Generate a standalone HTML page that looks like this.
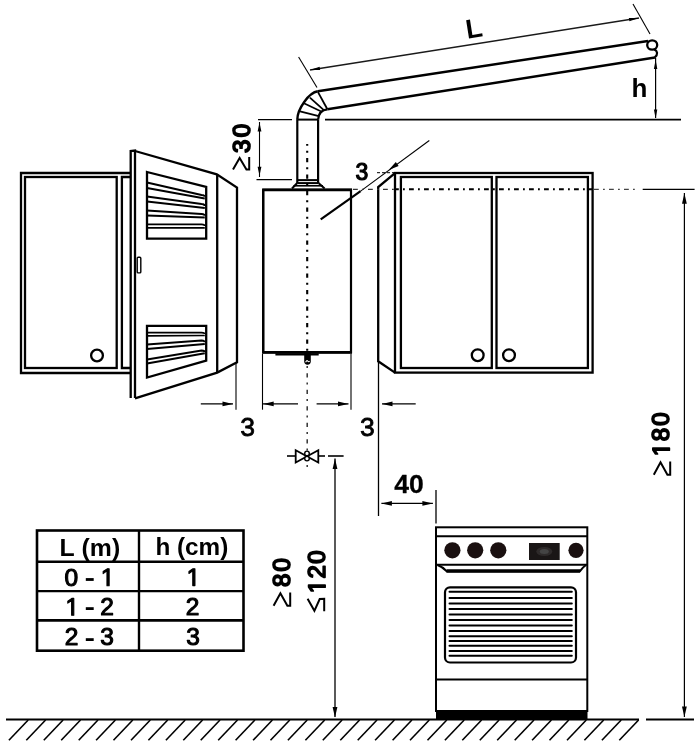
<!DOCTYPE html>
<html><head><meta charset="utf-8"><style>
html,body{margin:0;padding:0;background:#fff;}
svg{display:block;will-change:transform;}
text{font-family:"Liberation Sans",sans-serif;fill:#000;}
</style></head><body>
<svg width="700" height="745" viewBox="0 0 700 745">
<rect width="700" height="745" fill="#fff"/>
<g stroke="#000" stroke-linecap="butt" fill="none">
<line x1="6.0" y1="719.5" x2="639.0" y2="719.5" stroke-width="2" />
<line x1="646.0" y1="719.5" x2="694.0" y2="719.5" stroke-width="2" />
<line x1="28.2" y1="720.0" x2="8.9" y2="740.3" stroke-width="1.6" />
<line x1="45.6" y1="720.0" x2="26.3" y2="740.3" stroke-width="1.6" />
<line x1="63.1" y1="720.0" x2="43.8" y2="740.3" stroke-width="1.6" />
<line x1="80.5" y1="720.0" x2="61.2" y2="740.3" stroke-width="1.6" />
<line x1="98.0" y1="720.0" x2="78.7" y2="740.3" stroke-width="1.6" />
<line x1="115.4" y1="720.0" x2="96.1" y2="740.3" stroke-width="1.6" />
<line x1="132.8" y1="720.0" x2="113.5" y2="740.3" stroke-width="1.6" />
<line x1="150.3" y1="720.0" x2="131.0" y2="740.3" stroke-width="1.6" />
<line x1="167.7" y1="720.0" x2="148.4" y2="740.3" stroke-width="1.6" />
<line x1="185.2" y1="720.0" x2="165.9" y2="740.3" stroke-width="1.6" />
<line x1="202.6" y1="720.0" x2="183.3" y2="740.3" stroke-width="1.6" />
<line x1="220.0" y1="720.0" x2="200.7" y2="740.3" stroke-width="1.6" />
<line x1="237.5" y1="720.0" x2="218.2" y2="740.3" stroke-width="1.6" />
<line x1="254.9" y1="720.0" x2="235.6" y2="740.3" stroke-width="1.6" />
<line x1="272.4" y1="720.0" x2="253.1" y2="740.3" stroke-width="1.6" />
<line x1="289.8" y1="720.0" x2="270.5" y2="740.3" stroke-width="1.6" />
<line x1="307.2" y1="720.0" x2="287.9" y2="740.3" stroke-width="1.6" />
<line x1="324.7" y1="720.0" x2="305.4" y2="740.3" stroke-width="1.6" />
<line x1="342.1" y1="720.0" x2="322.8" y2="740.3" stroke-width="1.6" />
<line x1="359.6" y1="720.0" x2="340.3" y2="740.3" stroke-width="1.6" />
<line x1="377.0" y1="720.0" x2="357.7" y2="740.3" stroke-width="1.6" />
<line x1="394.4" y1="720.0" x2="375.1" y2="740.3" stroke-width="1.6" />
<line x1="411.9" y1="720.0" x2="392.6" y2="740.3" stroke-width="1.6" />
<line x1="429.3" y1="720.0" x2="410.0" y2="740.3" stroke-width="1.6" />
<line x1="446.8" y1="720.0" x2="427.5" y2="740.3" stroke-width="1.6" />
<line x1="464.2" y1="720.0" x2="444.9" y2="740.3" stroke-width="1.6" />
<line x1="481.6" y1="720.0" x2="462.3" y2="740.3" stroke-width="1.6" />
<line x1="499.1" y1="720.0" x2="479.8" y2="740.3" stroke-width="1.6" />
<line x1="516.5" y1="720.0" x2="497.2" y2="740.3" stroke-width="1.6" />
<line x1="534.0" y1="720.0" x2="514.7" y2="740.3" stroke-width="1.6" />
<line x1="551.4" y1="720.0" x2="532.1" y2="740.3" stroke-width="1.6" />
<line x1="568.8" y1="720.0" x2="549.5" y2="740.3" stroke-width="1.6" />
<line x1="586.3" y1="720.0" x2="567.0" y2="740.3" stroke-width="1.6" />
<line x1="603.7" y1="720.0" x2="584.4" y2="740.3" stroke-width="1.6" />
<line x1="621.2" y1="720.0" x2="601.9" y2="740.3" stroke-width="1.6" />
<line x1="638.6" y1="720.0" x2="619.3" y2="740.3" stroke-width="1.6" />
<polyline points="130.0,173.0 21.0,173.0 21.0,373.0 130.0,373.0" fill="none" stroke-width="2.3" />
<rect x="25.0" y="177.0" width="91.7" height="191.0" fill="none" stroke-width="2.3" />
<polyline points="130.0,177.0 121.9,177.0 121.9,368.0 130.0,368.0" fill="none" stroke-width="2.3" />
<circle cx="97" cy="355.5" r="5.9" fill="none" stroke-width="2.3"/>
<polyline points="130.7,398.0 130.7,151.0 135.0,150.6 135.0,398.0" fill="none" stroke-width="2.3" />
<polyline points="135.0,151.0 216.8,174.3 237.0,187.5 237.0,362.3 217.2,372.6 135.0,398.3" fill="none" stroke-width="2.3" />
<line x1="217.2" y1="174.3" x2="217.2" y2="372.6" stroke-width="2.3" />
<rect x="137.2" y="257.3" width="3.6" height="15.6" rx="1" fill="none" stroke-width="1.4"/>
<polygon points="147.0,172.0 206.2,187.0 206.2,238.6 147.0,238.6" fill="none" stroke-width="2.3" />
<path d="M147,182.5 L201.5,195.0 Q204.8,195.3 204.8,196.8" fill="none" stroke-width="2.2"/>
<path d="M147,188.0 L204.8,198.5" fill="none" stroke-width="2.0"/>
<path d="M147,196.5 L201.5,204.0 Q204.8,204.3 204.8,206.0" fill="none" stroke-width="2.2"/>
<path d="M147,201.5 L204.8,208.0" fill="none" stroke-width="2.0"/>
<path d="M147,210.5 L201.5,214.0 Q204.8,214.3 204.8,215.8" fill="none" stroke-width="2.2"/>
<path d="M147,215.5 L204.8,217.5" fill="none" stroke-width="2.0"/>
<path d="M147,224.4 L201.5,224.4 Q204.8,224.7 204.8,226.1" fill="none" stroke-width="1.9"/>
<path d="M147,227.8 L204.8,227.8" fill="none" stroke-width="1.7"/>
<polygon points="147.0,325.8 206.2,325.8 206.2,360.7 147.0,377.6" fill="none" stroke-width="2.3" />
<path d="M147,332.6 L201.5,332.6 Q204.8,332.9 204.8,334.1" fill="none" stroke-width="1.9"/>
<path d="M147,335.9 L204.8,335.5" fill="none" stroke-width="1.7"/>
<path d="M147,344.5 L201.5,340.5 Q204.8,340.8 204.8,342.2" fill="none" stroke-width="2.2"/>
<path d="M147,349.0 L204.8,344.0" fill="none" stroke-width="2.0"/>
<path d="M147,359.5 L201.5,350.5 Q204.8,350.8 204.8,351.9" fill="none" stroke-width="2.2"/>
<path d="M147,363.6 L204.8,353.2" fill="none" stroke-width="2.0"/>
<rect x="263.3" y="189.8" width="87.7" height="162.5" fill="none" stroke-width="2.2" />
<line x1="262.2" y1="189.8" x2="352.0" y2="189.8" stroke-width="2.7" />
<line x1="263.1" y1="189.8" x2="263.1" y2="352.3" stroke-width="2.2" />
<line x1="262.0" y1="352.3" x2="352.0" y2="352.3" stroke-width="2.8" />
<line x1="275.4" y1="354.3" x2="318.7" y2="354.3" stroke-width="2.2" />
<path d="M304.2,353 L304.2,361.2 A3.3,3.5 0 0 0 310.8,361.2 L310.8,353 Z" fill="#000" stroke="none"/>
<path d="M305.6,362.2 Q306.8,359.8 307.7,361 Q308.6,362.4 309.6,361.2" fill="none" stroke="#fff" stroke-width="1.1"/>
<polyline points="297.2,180.1 318.2,180.1" fill="none" stroke-width="2" />
<polyline points="297.2,183.1 318.5,183.1" fill="none" stroke-width="2" />
<polyline points="297.2,183.0 292.0,188.5" fill="none" stroke-width="2" />
<polyline points="318.5,183.0 324.6,188.5" fill="none" stroke-width="2" />
<line x1="293.5" y1="185.8" x2="323.0" y2="185.8" stroke-width="1.6" />
<line x1="297.3" y1="119.6" x2="297.3" y2="183.0" stroke-width="2.2" />
<line x1="318.1" y1="119.6" x2="318.1" y2="183.0" stroke-width="2.2" />
<line x1="297.3" y1="119.6" x2="318.1" y2="119.6" stroke-width="2" />
<path d="M297.3,119.8 C297.3,108.8 308.9,92.7 317.8,91.3" fill="none" stroke-width="2.4"/>
<path d="M318.1,119.8 C318.5,113 322,109.8 327.4,109.3" fill="none" stroke-width="2.2"/>
<line x1="300.0" y1="111.4" x2="318.8" y2="116.1" stroke-width="1.8" />
<line x1="303.9" y1="103.3" x2="321.8" y2="111.8" stroke-width="1.8" />
<line x1="309.9" y1="97.7" x2="324.4" y2="110.6" stroke-width="1.8" />
<line x1="318.0" y1="92.1" x2="327.4" y2="109.3" stroke-width="1.8" />
<line x1="317.8" y1="91.3" x2="648.0" y2="41.0" stroke-width="2.4" />
<line x1="327.4" y1="109.3" x2="655.0" y2="57.5" stroke-width="2.4" />
<ellipse cx="652.2" cy="45" rx="5" ry="4.7" fill="none" stroke-width="2.3"/>
<path d="M654.3,49.6 C657.6,51 658.2,54.6 654.8,57.4" fill="none" stroke-width="2.2"/>
<rect x="395.0" y="173.0" width="197.6" height="199.6" fill="none" stroke-width="2.3" />
<rect x="400.9" y="177.0" width="90.9" height="191.0" fill="none" stroke-width="2.3" />
<rect x="496.5" y="177.0" width="91.4" height="191.0" fill="none" stroke-width="2.3" />
<polyline points="395.0,173.2 378.2,187.0 378.2,361.3 395.0,372.6" fill="none" stroke-width="2.3" />
<circle cx="477.7" cy="355.2" r="5.9" fill="none" stroke-width="2.3"/>
<circle cx="509" cy="355.2" r="5.9" fill="none" stroke-width="2.3"/>
<rect x="436.0" y="527.3" width="151.3" height="183.7" fill="none" stroke-width="2.0" />
<line x1="436.0" y1="536.2" x2="587.3" y2="536.2" stroke-width="2" />
<line x1="436.0" y1="564.8" x2="587.3" y2="564.8" stroke-width="2" />
<path d="M437.5,565 Q443,567 446.5,571.2 L580,571.2 Q583,567 586,565" fill="none" stroke-width="2"/>
<path d="M446.5,571 L580,571" stroke-width="3.6"/>
<circle cx="452.4" cy="550.3" r="8.1" fill="#1a1010" stroke="none"/>
<circle cx="475.2" cy="550.3" r="8.1" fill="#1a1010" stroke="none"/>
<circle cx="498.3" cy="550.3" r="8.1" fill="#1a1010" stroke="none"/>
<circle cx="576" cy="550.3" r="7.6" fill="#1a1010" stroke="none"/>
<rect x="529" y="543" width="30.7" height="17" fill="#1a1616" stroke="none"/>
<ellipse cx="544.3" cy="551.5" rx="8" ry="4.5" fill="#2e2a2a" stroke="none"/>
<ellipse cx="544.3" cy="551.5" rx="4.5" ry="2.5" fill="#444" stroke="none"/>
<rect x="445" y="587.3" width="131" height="75.2" rx="5" fill="none" stroke-width="2.2"/>
<line x1="449.5" y1="591.7" x2="571.8" y2="591.7" stroke-width="2" stroke-linecap="round"/>
<line x1="449.5" y1="597.9" x2="571.8" y2="597.9" stroke-width="2" stroke-linecap="round"/>
<line x1="449.5" y1="603.6" x2="571.8" y2="603.6" stroke-width="2" stroke-linecap="round"/>
<line x1="449.5" y1="609.1" x2="571.8" y2="609.1" stroke-width="2" stroke-linecap="round"/>
<line x1="449.5" y1="614.6" x2="571.8" y2="614.6" stroke-width="2" stroke-linecap="round"/>
<line x1="449.5" y1="620.0" x2="571.8" y2="620.0" stroke-width="2" stroke-linecap="round"/>
<line x1="449.5" y1="625.5" x2="571.8" y2="625.5" stroke-width="2" stroke-linecap="round"/>
<line x1="449.5" y1="630.9" x2="571.8" y2="630.9" stroke-width="2" stroke-linecap="round"/>
<line x1="449.5" y1="636.2" x2="571.8" y2="636.2" stroke-width="2" stroke-linecap="round"/>
<line x1="449.5" y1="640.9" x2="571.8" y2="640.9" stroke-width="2" stroke-linecap="round"/>
<line x1="449.5" y1="645.7" x2="571.8" y2="645.7" stroke-width="2" stroke-linecap="round"/>
<line x1="449.5" y1="650.9" x2="571.8" y2="650.9" stroke-width="2" stroke-linecap="round"/>
<line x1="449.5" y1="655.8" x2="571.8" y2="655.8" stroke-width="2" stroke-linecap="round"/>
<line x1="436.0" y1="679.5" x2="587.3" y2="679.5" stroke-width="2" />
<rect x="436" y="710.5" width="151.5" height="8.5" fill="#000" stroke="none"/>
<line x1="258.0" y1="119.6" x2="292.0" y2="119.6" stroke-width="1.3" />
<line x1="256.5" y1="179.6" x2="292.0" y2="179.6" stroke-width="1.3" />
<line x1="259.5" y1="122.0" x2="259.5" y2="177.0" stroke-width="1.1" />
<polygon points="259.5,122.5 261.4,131.5 257.6,131.5" fill="#000" stroke="none"/>
<polygon points="259.5,175.8 257.6,166.8 261.4,166.8" fill="#000" stroke="none"/>
<line x1="325.0" y1="119.6" x2="681.0" y2="119.6" stroke-width="1.6" />
<line x1="655.6" y1="58.0" x2="655.6" y2="118.0" stroke-width="1.2" />
<polygon points="655.6,60.0 657.3,69.0 653.9,69.0" fill="#000" stroke="none"/>
<polygon points="655.6,118.5 653.9,109.5 657.3,109.5" fill="#000" stroke="none"/>
<line x1="310.0" y1="70.0" x2="639.0" y2="18.0" stroke-width="1.5" stroke="#1a1a1a"/>
<polygon points="310.0,70.0 319.6,66.8 320.1,70.1" fill="#000" stroke="none"/>
<polygon points="639.0,18.0 629.4,21.2 628.9,17.9" fill="#000" stroke="none"/>
<line x1="298.6" y1="57.0" x2="317.0" y2="87.5" stroke-width="1.1" />
<line x1="633.0" y1="4.0" x2="650.0" y2="34.0" stroke-width="1.1" />
<line x1="320.7" y1="219.4" x2="360.6" y2="191.1" stroke-width="2.2" />
<line x1="360.6" y1="191.1" x2="429.3" y2="140.5" stroke-width="1.1" />
<polygon points="388.7,170.1 395.8,162.0 398.6,165.9" fill="#000" stroke="none"/>
<line x1="377.0" y1="172.7" x2="395.0" y2="172.7" stroke-width="1" stroke-dasharray="3 2"/>
<line x1="353.0" y1="189.3" x2="395.0" y2="189.3" stroke-width="1.3" stroke-dasharray="4.8 4.2 1.8 4.2" stroke="#333"/>
<line x1="396.0" y1="189.3" x2="592.0" y2="189.3" stroke-width="2" stroke-dasharray="4.8 4.2 1.8 4.2" stroke-dashoffset="2"/>
<line x1="594.0" y1="189.3" x2="637.0" y2="189.3" stroke-width="1.3" stroke-dasharray="4.8 4.2 1.8 4.2" stroke="#444"/>
<line x1="642.7" y1="189.3" x2="694.6" y2="189.3" stroke-width="1.2" />
<line x1="684.4" y1="193.0" x2="684.4" y2="717.0" stroke-width="1.2" />
<polygon points="684.4,193.2 686.8,203.7 682.0,203.7" fill="#000" stroke="none"/>
<polygon points="684.4,717.0 682.0,706.5 686.8,706.5" fill="#000" stroke="none"/>
<line x1="236.0" y1="363.0" x2="236.0" y2="409.7" stroke-width="1.1" />
<line x1="262.5" y1="354.0" x2="262.5" y2="409.7" stroke-width="1.1" />
<line x1="351.0" y1="354.0" x2="351.0" y2="409.7" stroke-width="1.1" />
<line x1="378.5" y1="361.0" x2="378.5" y2="516.0" stroke-width="1.3" />
<line x1="200.8" y1="403.9" x2="233.0" y2="403.9" stroke-width="1.4" />
<polygon points="233.0,403.9 222.5,406.3 222.5,401.5" fill="#000" stroke="none"/>
<line x1="263.0" y1="403.9" x2="298.0" y2="403.9" stroke-width="1.4" />
<polygon points="263.2,403.9 273.7,401.5 273.7,406.3" fill="#000" stroke="none"/>
<line x1="316.6" y1="403.9" x2="348.5" y2="403.9" stroke-width="1.4" />
<polygon points="348.5,403.9 338.0,406.3 338.0,401.5" fill="#000" stroke="none"/>
<line x1="382.0" y1="403.9" x2="415.7" y2="403.9" stroke-width="1.4" />
<polygon points="382.0,403.9 392.5,401.5 392.5,406.3" fill="#000" stroke="none"/>
<line x1="436.0" y1="490.0" x2="436.0" y2="523.6" stroke-width="1.3" />
<line x1="381.4" y1="503.4" x2="432.9" y2="503.4" stroke-width="1.4" />
<polygon points="381.4,503.4 391.9,501.0 391.9,505.8" fill="#000" stroke="none"/>
<polygon points="432.9,503.4 422.4,505.8 422.4,501.0" fill="#000" stroke="none"/>
<line x1="335.0" y1="458.6" x2="335.0" y2="717.0" stroke-width="1.3" />
<polygon points="335.0,458.6 337.4,469.1 332.6,469.1" fill="#000" stroke="none"/>
<polygon points="335.0,717.5 332.6,707.0 337.4,707.0" fill="#000" stroke="none"/>
<line x1="307.2" y1="144.0" x2="307.2" y2="351.0" stroke-width="2.1" stroke-dasharray="2 5.3 4.2 5" stroke-dashoffset="9.8"/>
<line x1="307.2" y1="366.0" x2="307.2" y2="470.0" stroke-width="1.5" stroke-dasharray="2 5.3 4.2 5" stroke="#333"/>
<line x1="287.0" y1="456.0" x2="295.5" y2="456.0" stroke-width="1.6" />
<line x1="318.5" y1="456.0" x2="325.0" y2="456.0" stroke-width="1.6" />
<line x1="328.0" y1="456.0" x2="343.6" y2="456.0" stroke-width="1.6" />
<path d="M295.7,450.3 L295.7,462.6 L318.3,450.3 L318.3,462.6 Z" fill="none" stroke-width="1.8"/>
<circle cx="307" cy="453.4" r="2.3" fill="#fff" stroke-width="1.4"/>
<circle cx="307" cy="458.6" r="2.3" fill="#fff" stroke-width="1.4"/>
<g transform="translate(249.66,0) rotate(-90)">
<text x="-153.10" y="0.00" font-size="24" font-weight="normal" stroke="#000" stroke-width="1.7" stroke-linejoin="round">3</text>
<text x="-137.32" y="0.00" font-size="24" font-weight="normal" stroke="#000" stroke-width="1.7" stroke-linejoin="round">0</text>
</g>
<polyline points="233.00,169.60 239.64,157.97 246.45,169.60 249.20,169.60 249.20,157.10" fill="none" stroke-width="2.0" stroke-linejoin="miter" stroke-miterlimit="3"/>
<g transform="translate(290.16,0) rotate(-90)">
<text x="-586.92" y="0.00" font-size="24" font-weight="normal" stroke="#000" stroke-width="1.7" stroke-linejoin="round">8</text>
<text x="-571.47" y="0.00" font-size="24" font-weight="normal" stroke="#000" stroke-width="1.7" stroke-linejoin="round">0</text>
</g>
<polyline points="273.60,605.80 280.41,593.34 287.38,605.80 290.20,605.80 290.20,592.40" fill="none" stroke-width="2.0" stroke-linejoin="miter" stroke-miterlimit="3"/>
<g transform="translate(325.11,0) rotate(-90)">
<path d="M515 0V1237L197 1010V1180L530 1409H696V0Z" transform="translate(-593.28,0.00) scale(0.01172,-0.01172)" fill="#000" stroke="#000" stroke-width="145.1" stroke-linejoin="round"/>
<text x="-578.57" y="0.00" font-size="24" font-weight="normal" stroke="#000" stroke-width="1.7" stroke-linejoin="round">2</text>
<text x="-563.72" y="0.00" font-size="24" font-weight="normal" stroke="#000" stroke-width="1.7" stroke-linejoin="round">0</text>
</g>
<polyline points="307.60,598.80 314.41,610.83 319.72,599.05 324.20,598.80 324.20,611.20" fill="none" stroke-width="2.0" stroke-linejoin="miter" stroke-miterlimit="3"/>
<g transform="translate(669.36,0) rotate(-90)">
<path d="M515 0V1237L197 1010V1180L530 1409H696V0Z" transform="translate(-456.28,0.00) scale(0.01172,-0.01172)" fill="#000" stroke="#000" stroke-width="145.1" stroke-linejoin="round"/>
<text x="-441.32" y="0.00" font-size="24" font-weight="normal" stroke="#000" stroke-width="1.7" stroke-linejoin="round">8</text>
<text x="-425.72" y="0.00" font-size="24" font-weight="normal" stroke="#000" stroke-width="1.7" stroke-linejoin="round">0</text>
</g>
<polyline points="653.80,474.80 660.52,462.34 667.41,474.80 670.20,474.80 670.20,461.40" fill="none" stroke-width="2.0" stroke-linejoin="miter" stroke-miterlimit="3"/>
<g transform="translate(474.30,28.20) rotate(-9) translate(-8.73,9.29)">
<text x="0.00" y="0.00" font-size="27" font-weight="bold" stroke="none">L</text>
</g>
<text x="631.46" y="97.47" font-size="26" font-weight="bold" stroke="none">h</text>
<text x="355.47" y="179.62" font-size="23" font-weight="normal" stroke="#000" stroke-width="1.2" stroke-linejoin="round">3</text>
<text x="240.31" y="435.52" font-size="26.5" font-weight="normal" stroke="#000" stroke-width="0.8" stroke-linejoin="round">3</text>
<text x="359.96" y="435.67" font-size="26.5" font-weight="normal" stroke="#000" stroke-width="0.8" stroke-linejoin="round">3</text>
<text x="394.30" y="492.52" font-size="26.5" font-weight="bold" stroke="#000" stroke-width="0.3" stroke-linejoin="round">4</text>
<text x="409.04" y="492.52" font-size="26.5" font-weight="bold" stroke="#000" stroke-width="0.3" stroke-linejoin="round">0</text>
<text x="59.53" y="555.76" font-size="24.8" font-weight="bold" stroke="none">L</text>
<text x="81.57" y="555.76" font-size="24.8" font-weight="bold" stroke="none">(</text>
<text x="89.83" y="555.76" font-size="24.8" font-weight="bold" stroke="none">m</text>
<text x="111.88" y="555.76" font-size="24.8" font-weight="bold" stroke="none">)</text>
<text x="155.41" y="555.18" font-size="24.3" font-weight="bold" stroke="none">h</text>
<text x="177.00" y="555.18" font-size="24.3" font-weight="bold" stroke="none">(</text>
<text x="185.09" y="555.18" font-size="24.3" font-weight="bold" stroke="none">c</text>
<text x="198.61" y="555.18" font-size="24.3" font-weight="bold" stroke="none">m</text>
<text x="220.21" y="555.18" font-size="24.3" font-weight="bold" stroke="none">)</text>
<g>
<text x="64.59" y="585.68" font-size="24.5" font-weight="normal" stroke="#000" stroke-width="1.1" stroke-linejoin="round">0</text>
<path d="M515 0V1237L197 1010V1180L530 1409H696V0Z" transform="translate(100.81,585.68) scale(0.01196,-0.01196)" fill="#000" stroke="#000" stroke-width="92.0" stroke-linejoin="round"/>
</g>
<g>
<path d="M515 0V1237L197 1010V1180L530 1409H696V0Z" transform="translate(65.46,615.23) scale(0.01196,-0.01196)" fill="#000" stroke="#000" stroke-width="92.0" stroke-linejoin="round"/>
<text x="100.24" y="615.23" font-size="24.5" font-weight="normal" stroke="#000" stroke-width="1.1" stroke-linejoin="round">2</text>
</g>
<g>
<text x="64.84" y="644.88" font-size="24.5" font-weight="normal" stroke="#000" stroke-width="1.1" stroke-linejoin="round">2</text>
<text x="100.31" y="644.88" font-size="24.5" font-weight="normal" stroke="#000" stroke-width="1.1" stroke-linejoin="round">3</text>
</g>
<rect x="85.8" y="578.1" width="7.9" height="2.8" fill="#000" stroke="none"/>
<rect x="85.8" y="607.2" width="7.9" height="2.8" fill="#000" stroke="none"/>
<rect x="85.8" y="638.2" width="7.9" height="2.8" fill="#000" stroke="none"/>
<path d="M515 0V1237L197 1010V1180L530 1409H696V0Z" transform="translate(186.61,585.58) scale(0.01196,-0.01196)" fill="#000" stroke="#000" stroke-width="92.0" stroke-linejoin="round"/>
<text x="185.84" y="615.20" font-size="24.5" font-weight="normal" stroke="#000" stroke-width="1.1" stroke-linejoin="round">2</text>
<text x="186.36" y="644.88" font-size="24.5" font-weight="normal" stroke="#000" stroke-width="1.1" stroke-linejoin="round">3</text>
<rect x="37.0" y="530.5" width="206.5" height="120.2" fill="none" stroke-width="2.6" />
<line x1="139.0" y1="530.5" x2="139.0" y2="650.7" stroke-width="2.4" />
<line x1="37.0" y1="561.8" x2="243.5" y2="561.8" stroke-width="2.4" />
<line x1="37.0" y1="591.1" x2="243.5" y2="591.1" stroke-width="2.3" />
<line x1="37.0" y1="620.3" x2="243.5" y2="620.3" stroke-width="2.8" />
</g>
</svg>
</body></html>
